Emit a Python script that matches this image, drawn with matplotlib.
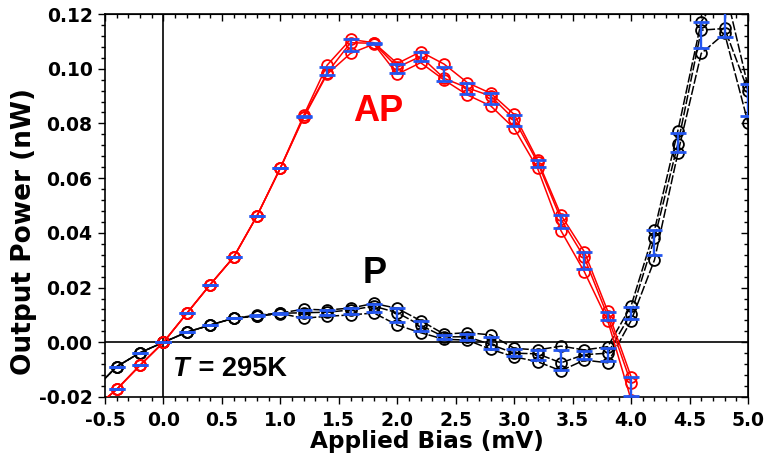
import numpy as np
import matplotlib
matplotlib.use("Agg")
import matplotlib.pyplot as plt
from matplotlib.ticker import MultipleLocator, FormatStrFormatter

plt.rcParams['font.family'] = ['DejaVu Sans']
plt.rcParams['font.weight'] = 'bold'

# ---------------- data ----------------
x_ap = [-0.6, -0.4, -0.2, 0.0, 0.2, 0.4, 0.6, 0.8, 1.0, 1.2, 1.4, 1.6, 1.8,
        2.0, 2.2, 2.4, 2.6, 2.8, 3.0, 3.2, 3.4, 3.6, 3.8, 4.0]
ap_run1 = [-0.0245, -0.0172, -0.0084, 0.0, 0.0106, 0.0211, 0.0311, 0.0462, 0.0637, 0.0830,
           0.1013, 0.1107, 0.1095, 0.1019, 0.1062, 0.1017, 0.0949, 0.0910, 0.0833, 0.0666,
           0.0465, 0.0331, 0.0114, -0.0126]
ap_run2 = [-0.0245, -0.0172, -0.0084, 0.0, 0.0106, 0.0211, 0.0311, 0.0462, 0.0637, 0.0825,
           0.0985, 0.1095, 0.1093, 0.1005, 0.1045, 0.0965, 0.0930, 0.0900, 0.0815, 0.0658,
           0.0450, 0.0310, 0.0095, -0.0150]
ap_run3 = [-0.0245, -0.0172, -0.0084, 0.0, 0.0106, 0.0211, 0.0311, 0.0462, 0.0637, 0.0822,
           0.0980, 0.1056, 0.1090, 0.0980, 0.1022, 0.0959, 0.0904, 0.0864, 0.0782, 0.0636,
           0.0408, 0.0258, 0.0079, -0.0210]

x_p = [-0.6, -0.4, -0.2, 0.0, 0.2, 0.4, 0.6, 0.8, 1.0, 1.2, 1.4, 1.6, 1.8, 2.0, 2.2,
       2.4, 2.6, 2.8, 3.0, 3.2, 3.4, 3.6, 3.8, 4.0, 4.2, 4.4, 4.6, 4.8, 5.0]
p_run1 = [-0.0175, -0.0089, -0.0038, 0.0, 0.0037, 0.0063, 0.0088, 0.0099, 0.0107, 0.0121,
          0.0118, 0.0125, 0.0142, 0.0124, 0.0079, 0.0030, 0.0035, 0.0027, -0.0022, -0.0028,
          -0.0014, -0.0028, -0.0016, 0.0133, 0.0410, 0.0773, 0.1172, 0.1300, 0.0935]
p_run2 = [-0.0175, -0.0089, -0.0038, 0.0, 0.0037, 0.0063, 0.0088, 0.0097, 0.0106, 0.0108,
          0.0110, 0.0118, 0.0132, 0.0108, 0.0062, 0.0020, 0.0020, -0.0008, -0.0040, -0.0042,
          -0.0075, -0.0045, -0.0040, 0.0105, 0.0380, 0.0725, 0.1141, 0.1147, 0.0920]
p_run3 = [-0.0175, -0.0089, -0.0038, 0.0, 0.0037, 0.0063, 0.0088, 0.0095, 0.0105, 0.0088,
          0.0095, 0.0100, 0.0107, 0.0063, 0.0035, 0.0011, 0.0008, -0.0026, -0.0053, -0.0071,
          -0.0104, -0.0065, -0.0075, 0.0079, 0.0301, 0.0691, 0.1056, 0.1129, 0.0803]

x_ticks = [-0.5, 0.0, 0.5, 1.0, 1.5, 2.0, 2.5, 3.0, 3.5, 4.0, 4.5, 5.0]
y_ticks = [-0.02, 0.00, 0.02, 0.04, 0.06, 0.08, 0.10, 0.12]

# ---------------- figure ----------------
fig = plt.figure(figsize=(7.64, 4.58), dpi=100)
ax = fig.add_axes([105 / 764, 61 / 458, 643 / 764, 383 / 458])

ax.axhline(0, color='black', lw=1.2, zorder=1)
ax.axvline(0, color='black', lw=1.2, zorder=1)

blue = '#2356f0'
mk = dict(marker='o', markersize=7.8, markerfacecolor='none', markeredgewidth=1.3)

dashes = [(0, (6, 1.5)), (2.0, (6, 1.5)), (4.0, (6, 1.5))]
for run, ls in zip([p_run1, p_run2, p_run3], dashes):
    ax.plot(x_p, run, color='black', lw=1.1, linestyle=ls, markeredgecolor='black', zorder=3, **mk)
for run in [ap_run1, ap_run2, ap_run3]:
    ax.plot(x_ap, run, color='red', lw=1.1, linestyle='-', markeredgecolor='red', zorder=4, **mk)

p_arr = np.array([p_run1, p_run2, p_run3])
ap_arr = np.array([ap_run1, ap_run2, ap_run3])
ax.errorbar(x_p, p_arr.mean(axis=0), yerr=p_arr.std(axis=0), fmt='none', ecolor=blue,
            elinewidth=1.7, capsize=5.8, capthick=2.0, zorder=5)
ax.errorbar(x_ap, ap_arr.mean(axis=0), yerr=ap_arr.std(axis=0), fmt='none', ecolor=blue,
            elinewidth=1.7, capsize=5.8, capthick=2.0, zorder=6)

ax.set_xlim(-0.5, 5.0)
ax.set_ylim(-0.02, 0.12)
ax.set_xticks(x_ticks)
ax.set_yticks(y_ticks)
ax.xaxis.set_major_formatter(FormatStrFormatter('%.1f'))
ax.yaxis.set_major_formatter(FormatStrFormatter('%.2f'))
ax.xaxis.set_minor_locator(MultipleLocator(0.1))
ax.yaxis.set_minor_locator(MultipleLocator(0.004))
ax.tick_params(which='major', direction='out', length=5, width=1.0, labelsize=13.5)
ax.tick_params(which='minor', direction='out', length=3, width=1.0)
ax.tick_params(axis='x', which='major', pad=5)
ax.tick_params(axis='y', which='major', pad=4)
for lab in ax.get_xticklabels() + ax.get_yticklabels():
    lab.set_fontweight('bold')
for s in ax.spines.values():
    s.set_linewidth(1.2)

secx = ax.secondary_xaxis('top')
secx.set_xticks(x_ticks)
secx.xaxis.set_minor_locator(MultipleLocator(0.1))
secx.tick_params(which='major', direction='in', length=5, width=1.0, labeltop=False)
secx.tick_params(which='minor', direction='in', length=3, width=1.0)
secy = ax.secondary_yaxis('right')
secy.set_yticks(y_ticks)
secy.yaxis.set_minor_locator(MultipleLocator(0.004))
secy.tick_params(which='major', direction='in', length=5, width=1.0, labelright=False)
secy.tick_params(which='minor', direction='in', length=3, width=1.0)

ax.set_xlabel('Applied Bias (mV)', fontsize=16.7, fontweight='bold', labelpad=0)
ax.set_ylabel('Output Power (nW)', fontsize=19, fontweight='bold')
ax.yaxis.set_label_coords(-0.106, 0.433)

ann_font = ['Liberation Sans', 'DejaVu Sans']
ax.text(1.84, 0.0845, 'AP', color='red', fontsize=26, fontweight='bold', family=ann_font,
        ha='center', va='center', zorder=7)
ax.text(1.81, 0.025, 'P', color='black', fontsize=26, fontweight='bold', family=ann_font,
        ha='center', va='center', zorder=7)
ax.text(0.078, -0.0098, 'T', color='black', fontsize=19.5, fontweight='bold', fontstyle='italic',
        family=ann_font, ha='left', va='center', zorder=7)
ax.text(0.078 + 0.155, -0.0098, ' = 295K', color='black', fontsize=19.5, fontweight='bold',
        family=ann_font, ha='left', va='center', zorder=7)

fig.savefig('out.png', dpi=100)
